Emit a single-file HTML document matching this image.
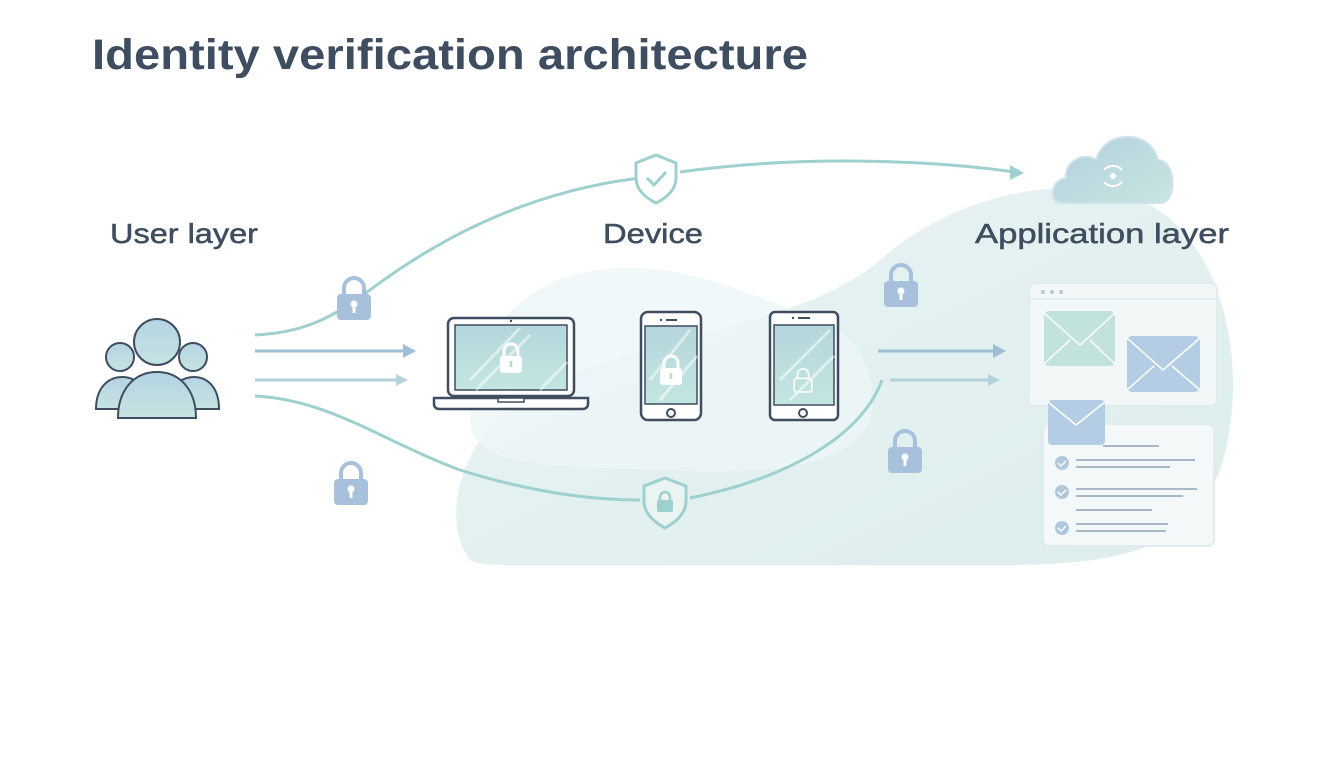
<!DOCTYPE html>
<html><head><meta charset="utf-8"><style>
html,body{margin:0;padding:0;background:#fff;}
svg{display:block}
text{font-family:"Liberation Sans",sans-serif;}
</style></head><body>
<svg width="1344" height="768" viewBox="0 0 1344 768" xmlns="http://www.w3.org/2000/svg">
<defs>
<linearGradient id="blob" x1="0" y1="0" x2="1" y2="1">
<stop offset="0" stop-color="#eaf3f5"/><stop offset="1" stop-color="#dceeec"/></linearGradient>
<linearGradient id="scr" x1="0" y1="0" x2="0" y2="1">
<stop offset="0" stop-color="#b4d6dc"/><stop offset="1" stop-color="#c4e6e0"/></linearGradient>
<linearGradient id="cloud" x1="0" y1="0" x2="1" y2="1">
<stop offset="0" stop-color="#b3cfe0"/><stop offset="1" stop-color="#c8e6e0"/></linearGradient>
<linearGradient id="ppl" x1="0" y1="0" x2="0" y2="1">
<stop offset="0" stop-color="#b5d3e3"/><stop offset="1" stop-color="#c6e4e2"/></linearGradient>
<g id="lock"><path d="M-10,-4 v-6 a10,10 0 0 1 20,0 v6" fill="none" stroke="#a7c1dc" stroke-width="4"/><rect x="-17" y="-4" width="34" height="26" rx="4" fill="#a7c1dc"/><circle cx="0" cy="6" r="3.5" fill="#fff"/><rect x="-1.5" y="7" width="3" height="8" fill="#fff"/></g>
<g id="wlock"><path d="M-7,-2 v-5 a7,7 0 0 1 14,0 v5" fill="none" stroke="#fff" stroke-width="3"/><rect x="-11" y="-2" width="22" height="17" rx="3" fill="#fff"/><rect x="-1.3" y="3" width="2.6" height="6" fill="#b9d9da"/></g>
</defs>
<rect width="1344" height="768" fill="#fff"/>
<path d="M470,560 C440,520 460,440 520,400 C640,330 800,330 880,260 C950,200 1050,170 1140,200 C1230,240 1250,380 1220,470 C1190,550 1120,565 1000,565 L520,565 C490,565 478,565 470,560 Z" fill="url(#blob)"/>
<path d="M470,420 C470,320 540,270 620,268 C700,266 760,300 820,320 C860,335 880,380 870,420 C850,470 760,475 660,470 C560,466 470,470 470,420 Z" fill="#eef6f8" opacity="0.8"/>
<text x="92" y="69" font-size="43" font-weight="bold" fill="#3f4d60" textLength="716" lengthAdjust="spacingAndGlyphs">Identity verification architecture</text>
<text x="110" y="243" font-size="28" fill="#3f4d60" stroke="#3f4d60" stroke-width="0.5" textLength="148" lengthAdjust="spacingAndGlyphs">User layer</text>
<text x="603" y="243" font-size="28" fill="#3f4d60" stroke="#3f4d60" stroke-width="0.5" textLength="100" lengthAdjust="spacingAndGlyphs">Device</text>
<text x="975" y="243" font-size="28" fill="#3f4d60" stroke="#3f4d60" stroke-width="0.5" textLength="254" lengthAdjust="spacingAndGlyphs">Application layer</text>
<path d="M255,335 C300,333 330,320 370,290 C450,230 540,190 640,178" fill="none" stroke="#9fd0d0" stroke-width="3"/>
<path d="M680,172 C800,155 930,160 1015,172" fill="none" stroke="#9fd0d0" stroke-width="3"/>
<path d="M1010,165 L1024,173 L1010,180 Z" fill="#9fd0d0"/>
<path d="M255,396 C330,400 380,440 460,470 C540,495 600,500 640,500" fill="none" stroke="#9fd0d0" stroke-width="3"/>
<path d="M690,498 C780,480 860,440 882,380" fill="none" stroke="#9fd0d0" stroke-width="3"/>
<line x1="255" y1="351" x2="405" y2="351" stroke="#9fbfd6" stroke-width="3"/><path d="M403,344 L416,351 L403,358Z" fill="#9fbfd6"/>
<line x1="255" y1="380" x2="398" y2="380" stroke="#b4d2de" stroke-width="3"/><path d="M396,374 L408,380 L396,386Z" fill="#b4d2de"/>
<line x1="878" y1="351" x2="995" y2="351" stroke="#9fbfd6" stroke-width="3"/><path d="M993,344 L1006,351 L993,358Z" fill="#9fbfd6"/>
<line x1="890" y1="380" x2="990" y2="380" stroke="#b4d2de" stroke-width="3"/><path d="M988,374 L1000,380 L988,386Z" fill="#b4d2de"/>
<use href="#lock" x="354" y="298"/><use href="#lock" x="351" y="483"/><use href="#lock" x="901" y="285"/><use href="#lock" x="905" y="451"/>
<path d="M656,155 L676,163 V178 C676,190 666,198 656,203 C646,198 636,190 636,178 V163 Z" fill="#fff" stroke="#9fd0d0" stroke-width="3"/>
<path d="M647,178 L654,185 L666,172" fill="none" stroke="#9fd0d0" stroke-width="3"/>
<path d="M665,478 L686,486 V501 C686,513 676,522 665,528 C654,522 644,513 644,501 V486 Z" fill="#e9f4f3" stroke="#9fd0d0" stroke-width="3"/>
<rect x="657" y="500" width="16" height="12" rx="2" fill="#9fd0d0"/><path d="M660,500 v-3 a5,5 0 0 1 10,0 v3" fill="none" stroke="#9fd0d0" stroke-width="2.5"/>
<g stroke="#3f4d60" stroke-width="2" fill="url(#ppl)">
<circle cx="120" cy="357" r="14"/><path d="M96,409 C96,388 108,377 122,377 C136,377 148,388 148,409 Z"/>
<circle cx="193" cy="357" r="14"/><path d="M168,409 C168,388 180,377 194,377 C208,377 219,388 219,409 Z"/>
<circle cx="157" cy="342" r="23"/><path d="M118,418 C118,390 134,372 157,372 C180,372 196,390 196,418 Z"/>
</g>
<rect x="448" y="318" width="126" height="78" rx="6" fill="#fff" stroke="#3f4d60" stroke-width="2.5"/>
<rect x="455" y="325" width="112" height="65" fill="url(#scr)" stroke="#3f4d60" stroke-width="1.5"/>
<path d="M470,380 L520,328 M476,390 L530,335 M540,390 L567,362" stroke="#fff" stroke-opacity="0.5" stroke-width="3"/>
<circle cx="511" cy="321" r="1.2" fill="#3f4d60"/>
<path d="M434,398 H588 V404 C588,407 586,409 582,409 H440 C436,409 434,407 434,404 Z" fill="#fff" stroke="#3f4d60" stroke-width="2.5"/>
<rect x="498" y="398" width="26" height="4" fill="#fff" stroke="#3f4d60" stroke-width="1.5"/>
<use href="#wlock" x="511" y="358"/>
<rect x="641" y="312" width="60" height="108" rx="7" fill="#fff" stroke="#3f4d60" stroke-width="2.5"/>
<rect x="645" y="326" width="52" height="78" fill="url(#scr)" stroke="#3f4d60" stroke-width="1.5"/>
<path d="M650,380 L690,330 M660,400 L697,356" stroke="#fff" stroke-opacity="0.5" stroke-width="3"/>
<line x1="666" y1="320" x2="677" y2="320" stroke="#3f4d60" stroke-width="2"/><circle cx="661" cy="320" r="1.2" fill="#3f4d60"/>
<circle cx="671" cy="413" r="4" fill="none" stroke="#3f4d60" stroke-width="2"/>
<use href="#wlock" x="671" y="370"/>
<rect x="770" y="312" width="68" height="108" rx="5" fill="#fff" stroke="#3f4d60" stroke-width="2.5"/>
<rect x="774" y="325" width="60" height="80" fill="url(#scr)" stroke="#3f4d60" stroke-width="1.5"/>
<path d="M780,380 L830,330 M790,400 L834,356" stroke="#fff" stroke-opacity="0.5" stroke-width="3"/>
<line x1="798" y1="318" x2="810" y2="318" stroke="#3f4d60" stroke-width="2"/><circle cx="793" cy="318" r="1.2" fill="#3f4d60"/>
<circle cx="803" cy="413" r="4" fill="none" stroke="#3f4d60" stroke-width="2"/>
<g transform="translate(803,380) scale(0.8)"><path d="M-7,-2 v-5 a7,7 0 0 1 14,0 v5" fill="none" stroke="#fff" stroke-width="2"/><rect x="-11" y="-2" width="22" height="17" rx="3" fill="none" stroke="#fff" stroke-width="2"/></g>
<path d="M1062,203 C1048,203 1050,180 1066,178 C1064,160 1086,152 1096,160 C1104,130 1150,128 1158,160 C1176,160 1178,203 1160,203 Z" fill="url(#cloud)" stroke="#cfe2ea" stroke-width="2"/>
<circle cx="1113" cy="176" r="3" fill="#fff"/>
<path d="M1104,170 a12,12 0 0 1 18,0 M1104,182 a12,12 0 0 0 18,0" fill="none" stroke="#fff" stroke-width="2"/>
<rect x="1029" y="283" width="188" height="123" rx="6" fill="#f2f7f8" stroke="#e0ecef" stroke-width="2"/>
<line x1="1029" y1="299" x2="1217" y2="299" stroke="#e0ecef" stroke-width="1.5"/>
<circle cx="1043" cy="292" r="2" fill="#b8c8d4"/><circle cx="1052" cy="292" r="2" fill="#b8c8d4"/><circle cx="1061" cy="292" r="2" fill="#b8c8d4"/>
<rect x="1044" y="311" width="71" height="55" rx="5" fill="#c2e2dc"/><path d="M1044,313 L1080,345 L1115,313 M1044,364 L1070,340 M1115,364 L1090,340" fill="none" stroke="#fff" stroke-width="1.5"/>
<rect x="1127" y="336" width="73" height="56" rx="5" fill="#b5cde4"/><path d="M1127,338 L1163,370 L1200,338 M1127,390 L1154,366 M1200,390 L1172,366" fill="none" stroke="#fff" stroke-width="1.5"/>
<rect x="1043" y="424" width="171" height="122" rx="6" fill="#f4f8f9" stroke="#e0ecef" stroke-width="2"/>
<rect x="1048" y="400" width="57" height="45" rx="4" fill="#b5cde4"/><path d="M1048,402 L1076,425 L1105,402" fill="none" stroke="#fff" stroke-width="1.5"/>
<line x1="1103" y1="446" x2="1159" y2="446" stroke="#a9b9c9" stroke-width="2"/>
<g fill="#b0c8dc"><circle cx="1062" cy="463" r="7"/><circle cx="1062" cy="492" r="7"/><circle cx="1062" cy="528" r="7"/></g>
<path d="M1058,463 l3,3 l5,-5 M1058,492 l3,3 l5,-5 M1058,528 l3,3 l5,-5" fill="none" stroke="#fff" stroke-width="1.5"/>
<g stroke="#a9b9c9" stroke-width="2">
<line x1="1076" y1="460" x2="1195" y2="460"/><line x1="1076" y1="467" x2="1170" y2="467"/>
<line x1="1076" y1="489" x2="1197" y2="489"/><line x1="1076" y1="496" x2="1183" y2="496"/>
<line x1="1076" y1="510" x2="1152" y2="510"/>
<line x1="1076" y1="524" x2="1168" y2="524"/><line x1="1076" y1="531" x2="1166" y2="531"/>
</g>
</svg>
</body></html>
